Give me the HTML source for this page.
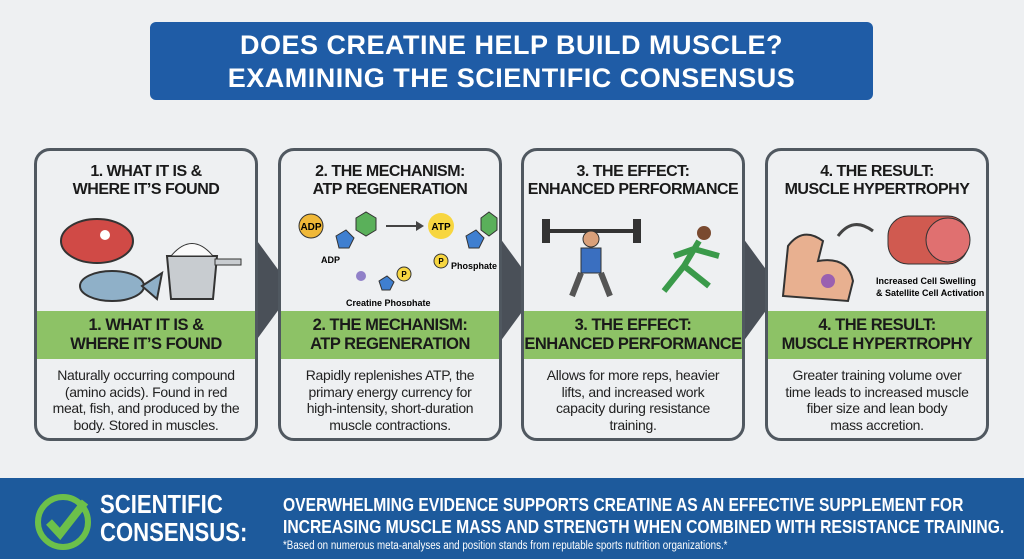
<!DOCTYPE html>
<html><head><meta charset="utf-8"><style>
*{margin:0;padding:0;box-sizing:border-box}
body{width:1024px;height:559px;overflow:hidden;background:#eef0f2;font-family:"Liberation Sans",sans-serif;position:relative}
.title{position:absolute;left:150px;top:22px;width:723px;height:78px;background:#1f5ca6;border-radius:6px;color:#fff;text-align:center;font-weight:bold;font-size:27px;line-height:33px;padding-top:7px;letter-spacing:0.5px}
.card{position:absolute;top:148px;width:224px;height:293px;border:3px solid #505860;border-radius:16px;background:#eef0f2;overflow:hidden}
.h,.g,.t{white-space:nowrap}
.h{position:absolute;left:0;right:0;top:12px;text-align:center;font-weight:bold;font-size:16px;line-height:18px;color:#1a1a1a;letter-spacing:-0.5px}
.g{position:absolute;left:0;right:0;top:160px;height:48px;background:#8dc266;text-align:center;font-weight:bold;font-size:16.5px;line-height:19px;padding-top:5px;color:#1a1a1a;letter-spacing:-0.5px}
.t{position:absolute;left:0;right:0;top:216px;text-align:center;font-size:14px;line-height:16.5px;color:#222;letter-spacing:-0.3px}
.arr{position:absolute;top:238px;width:0;height:0;border-top:52px solid transparent;border-bottom:52px solid transparent;border-left:38px solid #4a5058}
.foot{position:absolute;left:0;top:478px;width:1024px;height:81px;background:#1d5a9c;color:#fff}
.sq{display:inline-block;transform-origin:left;white-space:nowrap}
</style></head><body>
<div class="title">DOES CREATINE HELP BUILD MUSCLE?<br>EXAMINING THE SCIENTIFIC CONSENSUS</div>

<div class="arr" style="left:255px"></div>
<div class="arr" style="left:500px"></div>
<div class="arr" style="left:743px"></div>

<div class="card" style="left:34px">
<div class="h">1. WHAT IT IS &amp;<br>WHERE IT’S FOUND</div>
<svg style="position:absolute;left:20px;top:60px" width="190" height="95">
<ellipse cx="40" cy="30" rx="36" ry="22" fill="#d04a46" stroke="#333" stroke-width="2"/>
<circle cx="48" cy="24" r="5" fill="#fff"/>
<ellipse cx="55" cy="75" rx="32" ry="15" fill="#8fb0c8" stroke="#333" stroke-width="2"/>
<polygon points="85,75 105,62 100,88" fill="#8fb0c8" stroke="#333" stroke-width="2"/>
<path d="M110 45 L160 45 L156 88 L114 88 Z" fill="#c8ccd0" stroke="#333" stroke-width="2"/>
<path d="M114 45 Q135 20 156 45 Z" fill="#fafafa" stroke="#333" stroke-width="1"/>
<rect x="158" y="48" width="26" height="6" fill="#c8ccd0" stroke="#333"/>
</svg>
<div class="g">1. WHAT IT IS &amp;<br>WHERE IT’S FOUND</div>
<div class="t">Naturally occurring compound<br>(amino acids). Found in red<br>meat, fish, and produced by the<br>body. Stored in muscles.</div>
</div>

<div class="card" style="left:278px">
<div class="h">2. THE MECHANISM:<br>ATP REGENERATION</div>
<svg style="position:absolute;left:10px;top:55px" width="210" height="100" font-family="Liberation Sans" font-weight="bold">
<circle cx="20" cy="20" r="12" fill="#f0b838" stroke="#333"/><text x="20" y="24" font-size="10" text-anchor="middle">ADP</text>
<polygon points="45,30 55,24 63,32 58,42 48,42" fill="#3f7fd0" stroke="#333"/>
<polygon points="65,12 75,6 85,12 85,24 75,30 65,24" fill="#5ab05a" stroke="#333"/>
<line x1="95" y1="20" x2="125" y2="20" stroke="#444" stroke-width="2"/><polygon points="125,15 133,20 125,25" fill="#444"/>
<circle cx="150" cy="20" r="13" fill="#f7d640"/><text x="150" y="24" font-size="10" text-anchor="middle">ATP</text>
<polygon points="175,30 185,24 193,32 188,42 178,42" fill="#3f7fd0" stroke="#333"/>
<polygon points="190,12 198,6 206,12 206,24 198,30 190,24" fill="#5ab05a" stroke="#333"/>
<text x="30" y="57" font-size="9">ADP</text>
<circle cx="70" cy="70" r="5" fill="#9080c8"/>
<polygon points="88,75 96,70 103,76 99,84 91,84" fill="#3f7fd0" stroke="#333"/>
<circle cx="113" cy="68" r="7" fill="#f7d640" stroke="#333"/><text x="113" y="71" font-size="8" text-anchor="middle">P</text>
<circle cx="150" cy="55" r="7" fill="#f7d640" stroke="#333"/><text x="150" y="58" font-size="8" text-anchor="middle">P</text>
<text x="160" y="63" font-size="9">Phosphate</text>
<text x="55" y="100" font-size="9">Creatine Phosphate</text>
</svg>
<div class="g">2. THE MECHANISM:<br>ATP REGENERATION</div>
<div class="t">Rapidly replenishes ATP, the<br>primary energy currency for<br>high-intensity, short-duration<br>muscle contractions.</div>
</div>

<div class="card" style="left:521px">
<div class="h">3. THE EFFECT:<br>ENHANCED PERFORMANCE</div>
<svg style="position:absolute;left:10px;top:60px" width="210" height="95">
<rect x="10" y="18" width="95" height="4" fill="#333"/>
<rect x="8" y="8" width="8" height="24" fill="#333"/><rect x="99" y="8" width="8" height="24" fill="#333"/>
<circle cx="57" cy="28" r="8" fill="#d9a07a" stroke="#333"/>
<rect x="47" y="37" width="20" height="25" fill="#3a6fc0" stroke="#333"/>
<path d="M47 62 L38 85 M67 62 L76 85" stroke="#555" stroke-width="6"/>
<circle cx="170" cy="22" r="7" fill="#7a4a30"/>
<path d="M165 30 L150 55 L130 80 M150 55 L175 75 M160 38 L185 45 M160 38 L140 45" stroke="#3a9a4a" stroke-width="6" fill="none"/>
</svg>
<div class="g">3. THE EFFECT:<br>ENHANCED PERFORMANCE</div>
<div class="t">Allows for more reps, heavier<br>lifts, and increased work<br>capacity during resistance<br>training.</div>
</div>

<div class="card" style="left:765px">
<div class="h">4. THE RESULT:<br>MUSCLE HYPERTROPHY</div>
<svg style="position:absolute;left:10px;top:55px" width="210" height="100" font-family="Liberation Sans" font-weight="bold">
<path d="M5 90 L10 40 Q25 20 45 35 L40 55 Q70 50 75 75 L70 95 Z" fill="#e8b090" stroke="#333" stroke-width="2"/>
<circle cx="50" cy="75" r="7" fill="#9a60b0"/>
<path d="M60 30 Q75 10 95 25" stroke="#444" stroke-width="3" fill="none"/>
<rect x="110" y="10" width="80" height="48" rx="20" fill="#d05a50" stroke="#333"/>
<circle cx="170" cy="34" r="22" fill="#e07070" stroke="#333"/>
<text x="98" y="78" font-size="9">Increased Cell Swelling</text>
<text x="98" y="90" font-size="9">&amp; Satellite Cell Activation</text>
</svg>
<div class="g">4. THE RESULT:<br>MUSCLE HYPERTROPHY</div>
<div class="t">Greater training volume over<br>time leads to increased muscle<br>fiber size and lean body<br>mass accretion.</div>
</div>

<div class="foot">
<svg style="position:absolute;left:33px;top:14px" width="60" height="60"><circle cx="30" cy="30" r="25" fill="none" stroke="#6cc04a" stroke-width="6"/><path d="M16 30 L27 42 L52 10" stroke="#6cc04a" stroke-width="8" fill="none"/></svg>
<div style="position:absolute;left:100px;top:12px;font-weight:bold;font-size:26px;line-height:28px"><span class="sq" style="transform:scaleX(0.85)">SCIENTIFIC<br>CONSENSUS:</span></div>
<div style="position:absolute;left:283px;top:16px;font-weight:bold;font-size:18px;line-height:22px"><span class="sq" style="transform:scaleX(0.87)">OVERWHELMING EVIDENCE SUPPORTS CREATINE AS AN EFFECTIVE SUPPLEMENT FOR<br>INCREASING MUSCLE MASS AND STRENGTH WHEN COMBINED WITH RESISTANCE TRAINING.</span></div>
<div style="position:absolute;left:283px;top:62px;font-size:11.5px"><span class="sq" style="transform:scaleX(0.85)">*Based on numerous meta-analyses and position stands from reputable sports nutrition organizations.*</span></div>
</div>
</body></html>
